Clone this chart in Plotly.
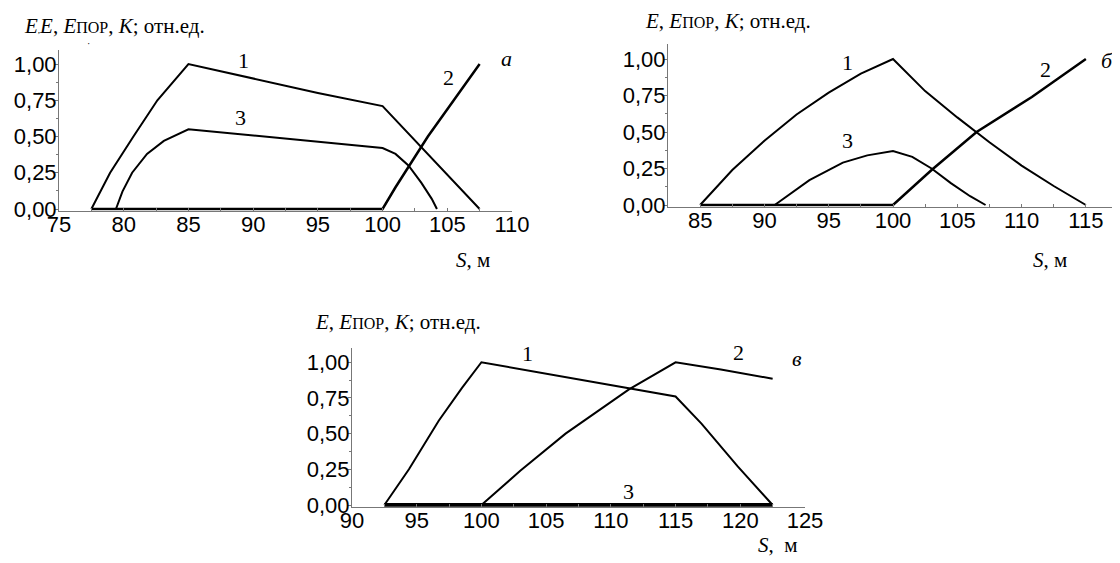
import plotly.graph_objects as go

# ---------------- data ----------------
# panel а
a_s1 = [77.5, 78.95, 80.75, 82.6, 85.0, 90.0, 95.0, 100.0, 107.5]
a_k1 = [0.0, 0.25, 0.5, 0.75, 1.0, 0.90, 0.80, 0.71, 0.0]
a_s2 = [77.5, 100.0, 101.0, 102.0, 103.5, 105.5, 107.5]
a_k2 = [0.0, 0.0, 0.15, 0.29, 0.5, 0.75, 1.0]
a_s3 = [79.4, 79.9, 80.65, 81.8, 83.1, 85.0, 100.0, 101.0, 102.0, 103.0, 103.8, 104.2]
a_k3 = [0.0, 0.12, 0.25, 0.38, 0.47, 0.55, 0.42, 0.38, 0.30, 0.18, 0.07, 0.0]

# panel б
b_s1 = [85.0, 87.5, 90.0, 92.5, 95.0, 97.5, 100.0, 102.5, 105.0, 107.5, 110.0, 112.5, 115.0]
b_k1 = [0.0, 0.24, 0.44, 0.62, 0.77, 0.90, 1.0, 0.78, 0.60, 0.43, 0.27, 0.13, 0.0]
b_s2 = [85.0, 100.0, 103.0, 106.5, 110.8, 115.0]
b_k2 = [0.0, 0.0, 0.24, 0.50, 0.74, 1.0]
b_s3 = [90.8, 93.5, 96.1, 98.0, 100.0, 101.5, 103.0, 104.5, 106.0, 107.2]
b_k3 = [0.0, 0.17, 0.29, 0.34, 0.37, 0.33, 0.25, 0.15, 0.06, 0.0]

# panel в
c_s1 = [92.5, 94.4, 96.7, 98.5, 100.0, 107.5, 115.0, 117.0, 119.8, 122.5]
c_k1 = [0.0, 0.25, 0.59, 0.82, 1.0, 0.88, 0.76, 0.57, 0.27, 0.0]
c_s2 = [100.0, 103.0, 106.5, 111.4, 115.0, 118.5, 122.5]
c_k2 = [0.0, 0.24, 0.50, 0.81, 1.0, 0.95, 0.885]
c_s3 = [92.5, 122.5]
c_k3 = [0.0, 0.0]

y_ticks = [0, 0.25, 0.5, 0.75, 1.0]
y_labels = ["0,00", "0,25", "0,50", "0,75", "1,00"]
a_xticks = [75, 80, 85, 90, 95, 100, 105, 110]
b_xticks = [85, 90, 95, 100, 105, 110, 115]
c_xticks = [90, 95, 100, 105, 110, 115, 120, 125]

# ---------------- figure ----------------
OFF = 8                      # page body margin
W, H = 1120 - OFF, 563 - OFF
fig = go.Figure()

def px_x(v):
    return (v - OFF) / W

def px_y(v):
    return 1 - (v - OFF) / H

def add(xs, ys, ax, width=2):
    fig.add_trace(go.Scatter(x=xs, y=ys, mode="lines", xaxis="x" + ax, yaxis="y" + ax,
                             line=dict(color="black", width=width), showlegend=False,
                             hoverinfo="skip"))

add(a_s1, a_k1, "")
add(a_s2, a_k2, "", 2.5)
add(a_s3, a_k3, "")
add(b_s1, b_k1, "2")
add(b_s2, b_k2, "2", 2.5)
add(b_s3, b_k3, "2")
add(c_s1, c_k1, "3")
add(c_s2, c_k2, "3")
add(c_s3, c_k3, "3", 4)

tickfont = dict(family="Liberation Sans, Arial", size=22, color="black")
serif = "Liberation Serif, Times New Roman"
ymin = -0.012

def xax(domain, rng, ticks, anchor):
    return dict(domain=domain, range=rng, tickvals=ticks, ticktext=[str(t) for t in ticks],
                showline=True, linecolor="#777", linewidth=1, showgrid=False, zeroline=False,
                ticks="inside", ticklen=3, tickcolor="#777", tickfont=tickfont, ticklabelstandoff=-6,
                minor=dict(dtick=2.5, tick0=rng[0], ticks="inside", ticklen=3, tickcolor="#777"),
                anchor=anchor, fixedrange=True, automargin=False)

def yax(domain, anchor):
    return dict(domain=domain, range=[ymin, 1.1], tickvals=y_ticks, ticktext=y_labels,
                showline=True, linecolor="#777", linewidth=1, showgrid=False, zeroline=False,
                ticks="outside", ticklen=3, tickcolor="#777", tickfont=tickfont, ticklabelstandoff=-6,
                minor=dict(dtick=0.125, tick0=0, ticks="outside", ticklen=2, tickcolor="#777"),
                anchor=anchor, fixedrange=True, automargin=False)

def ydom(y0px, y11px):
    per = (y0px - y11px) / 1.1
    bottom = y0px - ymin * per
    return [px_y(bottom), px_y(y11px)]

fig.update_layout(
    width=W, height=H, margin=dict(l=0, r=0, t=0, b=0, autoexpand=False),
    paper_bgcolor="white", plot_bgcolor="white",
    xaxis=xax([px_x(59), px_x(512)], [75, 110], a_xticks, "y"),
    yaxis=yax(ydom(209, 49.5), "x"),
    xaxis2=xax([px_x(668), px_x(1118)], [82.5, 117.5], b_xticks, "y2"),
    yaxis2=yax(ydom(205, 44.4), "x2"),
    xaxis3=xax([px_x(352), px_x(805)], [90, 125], c_xticks, "y3"),
    yaxis3=yax(ydom(505, 348), "x3"),
)

def note(x, y, text, size=22, xanchor="center"):
    fig.add_annotation(x=px_x(x), y=px_y(y), xref="paper", yref="paper", text=text,
                       showarrow=False, xanchor=xanchor, yanchor="middle",
                       font=dict(family=serif, size=size, color="black"))

por = "<span style='font-size:16px'>ПОР</span>"
title = "<i>E</i>, <i>E</i>" + por + ", <i>K</i>; отн.ед."
note(22, 26, "<i>E</i><span style='font-size:9px'>,</span>" + title, 21, "left")
note(88, 43, "·", 10)
note(643, 21, title, 21, "left")
note(313, 322, title, 21, "left")

# curve labels panel а
note(243, 60, "1")
note(240, 118, "3")
note(448, 77, "2")
note(506, 59, "<i>а</i>")
note(473, 260, "<i>S</i>, м", 21)
# panel б
note(847, 62, "1")
note(847, 140, "3")
note(1045, 70, "2")
note(1107, 60, "<i>б</i>")
note(1050, 260, "<i>S</i>, м", 21)
# panel в
note(527, 353, "1")
note(738, 352, "2")
note(628, 491, "3")
note(797, 358, "<i>в</i>")
note(778, 545, "<i>S</i>,  м", 21)

fig.write_html("out.html")
